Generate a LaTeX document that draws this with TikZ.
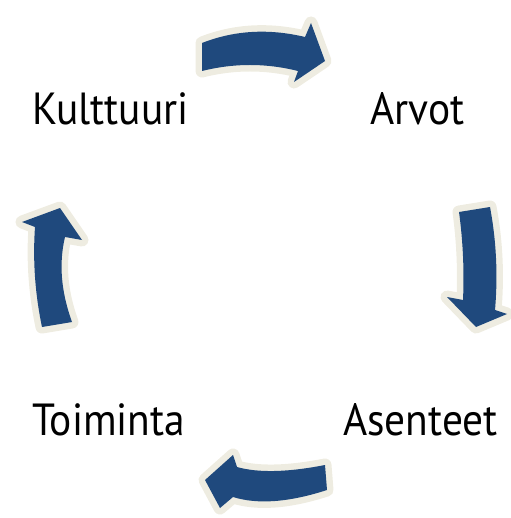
\documentclass[tikz,border=0pt]{standalone}
\usepackage{fontspec}
\setmainfont[FakeStretch=0.92]{PT Sans}

\begin{document}
\begin{tikzpicture}[
  x=1pt, y=-1pt,
  cyc/.style={fill=cycblue, line join=round,
    preaction={draw=cyccream, line width=13pt, line join=round}},
  lbl/.style={inner sep=0pt, anchor=base west, font=\fontsize{45}{50}\selectfont},
]
\definecolor{cycblue}{RGB}{31,73,125}
\definecolor{cyccream}{RGB}{238,236,225}

\useasboundingbox (0,0) rectangle (510,518);

\node [lbl] (kulttuuri) at (32,125) {Kulttuuri};
\node [lbl] (arvot) at (370,125) {Arvot};
\node [lbl] (asenteet) at (343,435) {Asenteet};
\node [lbl] (toiminta) at (32,435) {Toiminta};

% top
\path [cyc] (202,43) .. controls (234.3,30.3) and (268.7,28.3) .. (305,37)
  -- (311,23) -- (325,61) -- (294,82) -- (298,71)
  .. controls (266,63) and (234,63) .. (202,71) -- cycle;
% right
\path [cyc] (459,212) -- (490,207) .. controls (496.3,240.7) and (498,275) .. (495,310)
  -- (507,314) -- (476,327) -- (447,297) -- (463,300)
  .. controls (464.3,270.7) and (463,241.3) .. cycle;
% bottom
\path [cyc] (325,465) .. controls (287.7,472.3) and (258.3,473) .. (237,467)
  -- (233,455) -- (205,480) -- (220,508) -- (233,497)
  .. controls (257.7,504.7) and (289,502.3) .. (327,490) -- cycle;
% left
\path [cyc] (42,327) -- (72,322) .. controls (61,291.7) and (58.7,263.3) .. (65,237)
  -- (82,240) -- (60,208) -- (22,222) -- (35,227)
  .. controls (32.7,260.3) and (35,293.7) .. cycle;

\end{tikzpicture}
\end{document}
